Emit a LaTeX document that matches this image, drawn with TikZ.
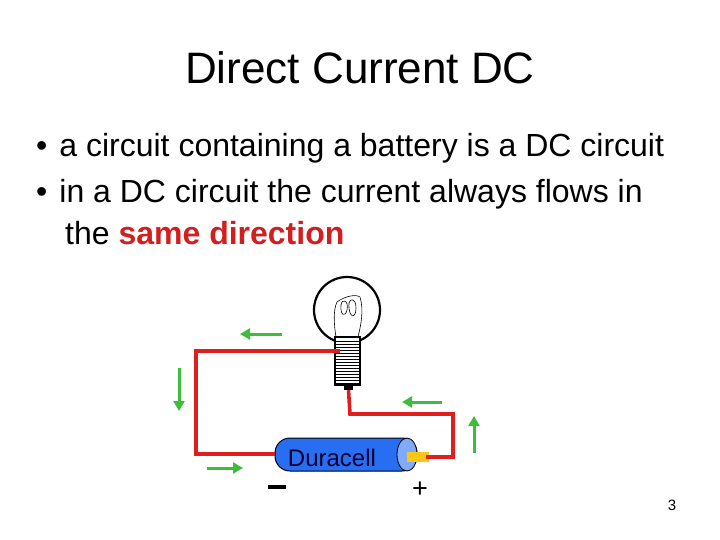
\documentclass[tikz,border=0pt]{standalone}
\usepackage{fontspec}
\setmainfont{Liberation Sans}
\usetikzlibrary{arrows.meta,shapes.geometric}
\definecolor{wire}{RGB}{225,30,30}
\definecolor{flow}{RGB}{60,190,60}
\definecolor{batt}{RGB}{40,110,240}
\definecolor{cap}{RGB}{130,170,250}
\definecolor{term}{RGB}{250,200,20}
\definecolor{hl}{RGB}{210,30,30}
\tikzset{wireln/.style={wire,line width=3.6pt},
 flowarr/.style={flow,line width=3pt,-{Triangle[length=10pt,width=11pt]}},
 txt/.style={anchor=west,inner sep=0pt,font=\fontsize{32}{36}\selectfont}}
\begin{document}
\begin{tikzpicture}[x=1pt,y=-1pt]
\useasboundingbox (0,0) rectangle (720,540);
\node (title) at (360,68) {\fontsize{44}{48}\selectfont Direct Current DC};
\node[txt] (b1) at (36,148) {•\hspace{12pt}a circuit containing a battery is a DC circuit};
\node[txt] (b2) at (36,194) {•\hspace{12pt}in a DC circuit the current always flows in};
\node[txt] (b3) at (65,233) {the \textcolor{hl}{\textbf{same direction}}};
% bulb
\draw[line width=2.2pt] (347,310) circle (33);
\node[draw=black,line width=1.5pt,fill=white,minimum width=25pt,minimum height=48pt,inner sep=0pt] (base) at (347.5,361) {};
\foreach \y in {341,344,...,383} \draw[line width=1pt] (335,\y) -- (360,\y);
\node[fill=black,minimum width=9pt,minimum height=6pt,inner sep=0pt] (tip) at (348.5,387) {};
\draw[line width=0.6pt] (336,337) .. controls (334,325) and (333,310) .. (337,302) .. controls (345,296) and (356,294) .. (360,297) .. controls (364,310) and (361,325) .. (358,337);
\draw[line width=0.6pt] (341,305) .. controls (340,315) and (345,318) .. (347,310) .. controls (349,300) and (342,298) .. (341,305);
\draw[line width=0.6pt] (349,303) .. controls (348,318) and (356,320) .. (356,308) .. controls (356,298) and (350,298) .. (349,303);
% battery
\draw[fill=batt,draw=black,line width=1pt,rounded corners=15pt] (275,438) rectangle (417,471);
\node[draw=black,line width=0.8pt,fill=cap,ellipse,minimum width=20pt,minimum height=33pt,inner sep=0pt] (capn) at (407,454.5) {};
\node[fill=term,minimum width=22pt,minimum height=10pt,inner sep=0pt] (term) at (418,456.5) {};
\node[font=\fontsize{24}{26}\selectfont,text=black!80!blue] (lab) at (332,458) {Duracell};
% wires
\draw[wireln] (340,351) -- (196,351) -- (196,454) -- (275,454);
\draw[wireln] (tip.south) -- (350,414) -- (453,414) -- (453,457) -- (426,457);
% flow arrows
\coordinate (a1s) at (282,334); \coordinate (a1e) at (240,334);
\coordinate (a2s) at (179,368); \coordinate (a2e) at (179,411);
\coordinate (a3s) at (207,468); \coordinate (a3e) at (243,468);
\coordinate (a4s) at (442,402); \coordinate (a4e) at (402,402);
\coordinate (a5s) at (474,453); \coordinate (a5e) at (474,416);
\draw[flowarr] (a1s) -- (a1e);
\draw[flowarr] (a2s) -- (a2e);
\draw[flowarr] (a3s) -- (a3e);
\draw[flowarr] (a4s) -- (a4e);
\draw[flowarr] (a5s) -- (a5e);
\draw[line width=4pt] (268,487) -- (286,487);
\node[font=\fontsize{27}{29}\selectfont] (plus) at (420,490) {+};
\node[font=\fontsize{15}{17}\selectfont] (pg) at (672,505) {3};
\end{tikzpicture}
\end{document}
